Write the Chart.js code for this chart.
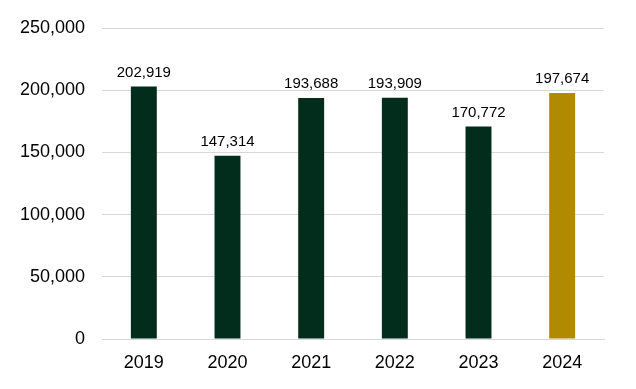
<!DOCTYPE html>
<html>
<head>
<meta charset="utf-8">
<script src="https://cdn.jsdelivr.net/npm/chart.js@4/dist/chart.umd.min.js"></script>
<style>
  html, body { margin: 0; padding: 0; background: #fff; }
  #wrap { width: 636px; height: 389px; }
</style>
</head>
<body>
<div id="wrap"><canvas id="visitsChart"></canvas></div>
<script>
// data
const years = ['2019', '2020', '2021', '2022', '2023', '2024'];
const visits = [202919, 147314, 193688, 193909, 170772, 197674];
const barColors = ['#022d1c', '#022d1c', '#022d1c', '#022d1c', '#022d1c', '#b08a00'];
const yTicks = [0, 50000, 100000, 150000, 200000, 250000];

// value labels above each bar
const valueLabels = {
  id: 'valueLabels',
  afterDatasetsDraw(chart) {
    const c = chart.ctx;
    const meta = chart.getDatasetMeta(0);
    c.save();
    c.font = '15px "Liberation Sans", Arial, sans-serif';
    c.fillStyle = '#000';
    c.textAlign = 'center';
    c.textBaseline = 'alphabetic';
    meta.data.forEach((bar, i) => {
      c.fillText(visits[i].toLocaleString('en-US'), bar.x, bar.y - 10);
    });
    c.restore();
  }
};

const ctx = document.getElementById('visitsChart').getContext('2d');
new Chart(ctx, {
  type: 'bar',
  data: {
    labels: years,
    datasets: [{
      data: visits,
      backgroundColor: barColors,
      barPercentage: 0.31,
      categoryPercentage: 1.0
    }]
  },
  options: {
    responsive: true,
    maintainAspectRatio: false,
    animation: false,
    layout: { padding: { top: 28, right: 32, left: 0, bottom: 0 } },
    plugins: { legend: { display: false }, tooltip: { enabled: false } },
    scales: {
      x: {
        grid: { display: false, drawTicks: false },
        border: { display: true, color: '#d9d9d9', width: 1 },
        ticks: {
          color: '#000',
          padding: 13,
          font: { family: '"Liberation Sans", Arial, sans-serif', size: 18 }
        },
        afterFit(scale) { scale.height = 50; }
      },
      y: {
        min: 0,
        max: 250000,
        afterBuildTicks(scale) { scale.ticks = yTicks.map(v => ({ value: v })); },
        grid: { color: '#d9d9d9', drawTicks: false },
        border: { display: false },
        ticks: {
          color: '#000',
          padding: 17,
          font: { family: '"Liberation Sans", Arial, sans-serif', size: 18 },
          callback: v => v.toLocaleString('en-US')
        },
        afterFit(scale) { scale.width = 102; }
      }
    }
  },
  plugins: [valueLabels]
});
</script>
</body>
</html>
